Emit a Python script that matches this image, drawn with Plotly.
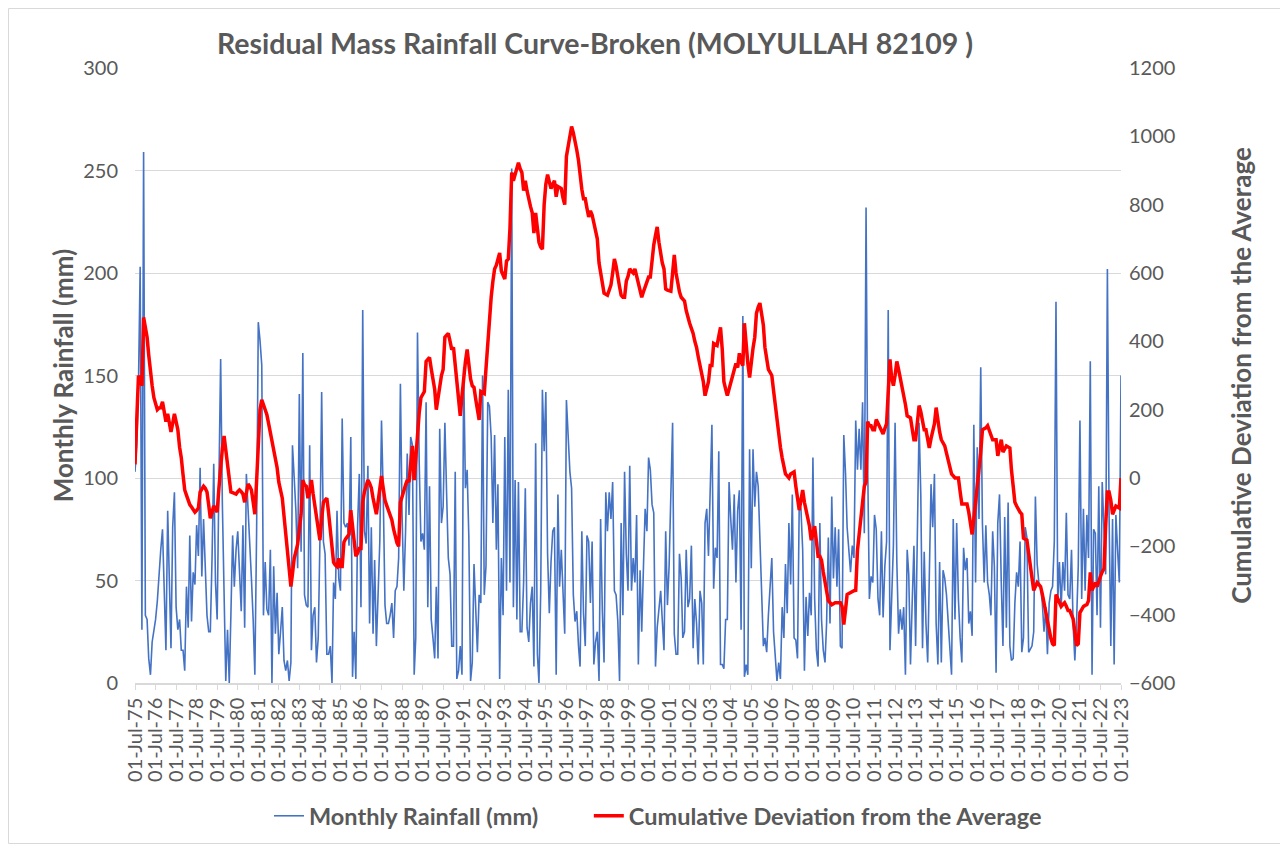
import pandas as pd
import plotly.graph_objects as go

# monthly rainfall (mm), Jul-1975 .. Jul-2023, one row per Jul-Jun year
rainfall = [
    103, 116, 146, 203, 26, 259, 33, 31, 12, 4, 20, 26,
    31, 40, 55, 65, 75, 49, 16, 84, 50, 17, 76, 93,
    37, 26, 31, 16, 16, 6, 47, 27, 72, 30, 54, 48,
    77, 62, 105, 52, 80, 55, 33, 25, 25, 61, 107, 49,
    31, 98, 158, 88, 41, 1, 26, 0, 33, 72, 47, 65,
    74, 57, 35, 77, 27, 102, 86, 69, 51, 31, 4, 73,
    176, 167, 155, 33, 59, 36, 33, 65, 0, 57, 24, 44,
    14, 25, 37, 11, 6, 11, 1, 10, 116, 100, 84, 56,
    141, 64, 161, 43, 38, 37, 116, 16, 33, 37, 10, 22,
    69, 142, 69, 63, 14, 14, 18, 0, 49, 41, 84, 51,
    45, 129, 78, 76, 78, 67, 120, 3, 25, 2, 76, 102,
    37, 182, 74, 68, 106, 29, 76, 24, 60, 18, 49, 69,
    128, 92, 38, 29, 29, 33, 39, 22, 45, 47, 61, 146,
    82, 45, 74, 112, 82, 120, 116, 4, 22, 171, 108, 69,
    73, 65, 137, 37, 96, 31, 22, 12, 47, 12, 124, 78,
    86, 127, 92, 61, 53, 18, 18, 103, 2, 6, 18, 4,
    154, 95, 104, 71, 1, 10, 58, 37, 15, 43, 39, 150,
    43, 57, 137, 135, 120, 78, 121, 65, 97, 2, 61, 33,
    120, 45, 143, 49, 251, 37, 99, 31, 98, 25, 25, 49,
    95, 27, 20, 39, 47, 8, 117, 14, 0, 45, 143, 113,
    142, 63, 34, 59, 74, 76, 4, 92, 47, 65, 43, 24,
    138, 118, 103, 95, 43, 30, 35, 18, 8, 74, 34, 18,
    72, 69, 39, 69, 9, 20, 25, 1, 80, 35, 10, 93,
    74, 93, 80, 98, 45, 43, 30, 1, 78, 33, 103, 63,
    45, 106, 45, 61, 49, 82, 9, 55, 25, 57, 85, 74,
    110, 104, 87, 83, 8, 27, 37, 45, 31, 16, 74, 38,
    57, 96, 127, 24, 14, 14, 63, 51, 22, 25, 65, 37,
    41, 67, 17, 41, 29, 9, 45, 39, 9, 78, 85, 62,
    98, 126, 46, 66, 61, 113, 9, 9, 7, 31, 31, 98,
    80, 65, 92, 49, 84, 94, 26, 179, 3, 9, 4, 114,
    56, 114, 86, 103, 96, 69, 49, 18, 22, 15, 33, 45,
    61, 25, 13, 1, 10, 2, 37, 22, 58, 34, 78, 48,
    92, 22, 21, 12, 88, 85, 65, 6, 42, 23, 44, 33,
    110, 41, 16, 8, 78, 31, 16, 10, 29, 71, 29, 91,
    51, 76, 47, 75, 18, 17, 121, 102, 76, 63, 54, 67,
    61, 128, 104, 124, 104, 137, 73, 232, 108, 41, 52, 49,
    82, 75, 41, 33, 74, 32, 57, 69, 182, 16, 47, 67,
    127, 59, 24, 36, 26, 37, 4, 65, 53, 9, 39, 67,
    18, 74, 127, 92, 17, 64, 29, 10, 55, 97, 76, 102,
    29, 9, 59, 10, 55, 51, 43, 29, 16, 4, 80, 31,
    78, 41, 22, 10, 66, 55, 61, 29, 35, 23, 126, 49,
    115, 80, 154, 78, 49, 77, 49, 43, 33, 74, 57, 5,
    78, 92, 49, 18, 81, 27, 88, 18, 11, 12, 39, 54,
    47, 69, 15, 22, 76, 71, 15, 17, 18, 25, 91, 58,
    49, 47, 39, 25, 37, 14, 39, 45, 47, 69, 186, 39,
    59, 37, 59, 45, 83, 43, 41, 65, 29, 11, 29, 57,
    128, 41, 85, 45, 82, 61, 157, 4, 75, 73, 33, 96,
    27, 98, 78, 53, 202, 82, 18, 80, 9, 82, 65, 49,
    150,
]

# cumulative deviation from the average, same months
cum_dev = [
    40, 150, 300, 285, 270, 470, 440, 412, 360, 306, 270, 235,
    215, 200, 205, 206, 223, 195, 165, 188, 160, 135, 160, 188,
    165, 141, 90, 59, 10, -35, -50, -65, -78, -85, -94, -100,
    -95, -88, -41, -30, -24, -30, -41, -80, -118, -100, -82, -90,
    -100, -30, 47, 85, 123, 85, 47, 5, -41, -43, -45, -47,
    -40, -35, -40, -47, -71, -40, -18, -25, -35, -70, -106, -10,
    94, 200, 229, 215, 200, 185, 159, 135, 106, 85, 65, 30,
    -12, -35, -59, -110, -165, -210, -259, -318, -280, -235, -215, -194,
    -150, -106, -6, -20, -24, -59, -40, -6, -45, -82, -120, -150,
    -182, -120, -71, -65, -59, -100, -153, -200, -247, -255, -259, -235,
    -259, -259, -188, -178, -170, -165, -94, -140, -176, -229, -220, -206,
    -206, -71, -40, -20, -6, -15, -29, -59, -80, -106, -70, -30,
    6, -30, -65, -80, -95, -110, -123, -150, -176, -190, -200, -71,
    -55, -41, -20, -6, -12, 40, 94, -6, 60, 141, 190, 235,
    245, 253, 341, 347, 353, 320, 290, 259, 200, 240, 270, 300,
    318, 412, 418, 423, 400, 376, 382, 330, 270, 225, 182, 240,
    306, 340, 376, 330, 290, 270, 265, 230, 200, 170, 253, 250,
    247, 320, 400, 465, 529, 575, 612, 623, 640, 659, 606, 590,
    582, 635, 641, 729, 894, 870, 890, 910, 923, 905, 894, 841,
    870, 840, 811, 795, 776, 717, 776, 730, 690, 676, 670, 800,
    860, 888, 865, 847, 860, 870, 823, 853, 850, 847, 820, 800,
    941, 970, 1000, 1029, 1010, 988, 960, 929, 880, 845, 817, 817,
    790, 764, 782, 770, 747, 720, 700, 629, 600, 576, 541, 538,
    535, 550, 565, 600, 641, 620, 582, 560, 535, 529, 529, 576,
    590, 612, 605, 600, 612, 590, 565, 545, 529, 545, 559, 575,
    588, 588, 640, 682, 710, 735, 690, 647, 630, 612, 553, 550,
    548, 547, 600, 653, 600, 565, 545, 529, 523, 518, 490, 465,
    453, 438, 423, 400, 382, 355, 329, 305, 282, 241, 262, 282,
    329, 329, 394, 391, 388, 415, 441, 376, 282, 260, 241, 260,
    280, 294, 315, 335, 323, 365, 340, 329, 453, 376, 335, 294,
    347, 380, 412, 482, 500, 512, 480, 447, 382, 350, 318, 309,
    300, 256, 212, 168, 123, 90, 59, 35, 12, 6, 0, 12,
    15, 18, -24, -60, -94, -65, -35, -71, -95, -118, -141, -182,
    -160, -141, -185, -229, -229, -241, -275, -306, -330, -359, -365, -371,
    -368, -365, -365, -365, -365, -376, -429, -385, -341, -338, -335, -332,
    -330, -329, -212, -165, -118, -71, -24, -12, 165, 153, 153, 141,
    141, 171, 160, 147, 138, 129, 145, 159, 250, 347, 294, 270,
    300, 341, 318, 294, 270, 247, 215, 182, 180, 176, 144, 112,
    112, 162, 212, 194, 167, 141, 141, 115, 88, 115, 141, 159,
    206, 159, 135, 112, 103, 94, 73, 53, 32, 12, 6, 0,
    0, 0, -40, -76, -76, -76, -76, -100, -129, -165, -120, -71,
    -30, 12, 75, 141, 144, 147, 153, 138, 123, 112, 112, 112,
    65, 88, 112, 76, 85, 94, 91, 88, 24, -20, -71, -82,
    -94, -100, -106, -176, -179, -182, -220, -259, -294, -329, -318, -306,
    -312, -318, -340, -365, -394, -423, -447, -470, -485, -490, -341, -355,
    -365, -376, -370, -365, -375, -388, -388, -400, -412, -450, -490, -485,
    -394, -385, -376, -373, -371, -359, -276, -329, -318, -306, -318, -300,
    -288, -275, -265, -141, -41, -41, -65, -106, -94, -82, -85, -88,
    0,
]

tick_years = list(range(1975, 2024))
tick_dates = [f"{y}-07-01" for y in tick_years]
tick_labels = [f"01-Jul-{y % 100:02d}" for y in tick_years]

assert len(rainfall) == len(cum_dev) == 577
months = pd.date_range("1975-07-01", periods=len(rainfall), freq="MS")

GREY = "#595959"
FONT = "Lato"
# the page body adds an 8px offset, so the figure is drawn 8px smaller
W, H = 1280, 836
NBSP = "\u00a0"

fig = go.Figure()
fig.add_trace(go.Scatter(
    x=months, y=rainfall, name="Monthly Rainfall (mm)" + NBSP * 8, mode="lines",
    line=dict(color="#4472C4", width=1.6),
))
fig.add_trace(go.Scatter(
    x=months, y=cum_dev, name="Cumulative Deviation from the Average", mode="lines",
    line=dict(color="#FF0000", width=3.5), yaxis="y2",
))

fig.update_layout(
    width=W, height=H,
    margin=dict(l=127, r=167, t=60, b=161, autoexpand=False),
    paper_bgcolor="white", plot_bgcolor="white",
    font=dict(family=FONT, color=GREY),
    title=dict(
        text="Residual Mass Rainfall Curve-Broken (MOLYULLAH 82109 )",
        font=dict(size=28.5, color=GREY, family=FONT, weight="bold"),
        x=587 / W, xref="container", xanchor="center",
        y=1 - 36 / H, yref="container", yanchor="middle",
    ),
    xaxis=dict(
        type="date", range=["1975-07-01", "2023-07-01"], automargin=False,
        tickmode="array", tickvals=tick_dates, ticktext=tick_labels,
        tickangle=-90, tickfont=dict(size=20, color=GREY),
        showgrid=False, showline=True, linecolor="#D9D9D9", linewidth=1.5,
        ticks="outside", ticklen=5, tickcolor="#D9D9D9", zeroline=False,
    ),
    yaxis=dict(
        range=[0, 300], dtick=50, showgrid=True, gridcolor="#D9D9D9", gridwidth=1,
        zeroline=False, showline=False, ticks="", ticklabelstandoff=16, automargin=False,
        tickfont=dict(size=20, color=GREY),
        title=dict(text="Monthly Rainfall (mm)", standoff=2,
                   font=dict(size=26, color=GREY, weight="bold")),
    ),
    yaxis2=dict(
        range=[-600, 1200], dtick=200, overlaying="y", side="right", automargin=False,
        showgrid=False, zeroline=False, showline=False, ticks="", ticklabelstandoff=7,
        tickfont=dict(size=20, color=GREY),
        title=dict(text="Cumulative Deviation from the Average", standoff=58,
                   font=dict(size=26, color=GREY, weight="bold")),
    ),
    legend=dict(
        orientation="h", x=(269 - 135) / 986, xanchor="left",
        y=(683 - 816) / 615, yanchor="middle",
        font=dict(size=23.5, color=GREY, weight="bold"),
        bgcolor="rgba(0,0,0,0)",
    ),
    showlegend=True,
)

# light frame around the chart area, as in the spreadsheet export
fig.add_shape(type="rect", xref="paper", yref="paper",
              x0=-126.5 / 986, x1=(W - 127 - 0.5) / 986, y0=-(161 - 0.5) / 615, y1=(615 + 59.5) / 615,
              line=dict(color="#D9D9D9", width=1), fillcolor="rgba(0,0,0,0)", layer="below")

fig.write_html("out.html")
